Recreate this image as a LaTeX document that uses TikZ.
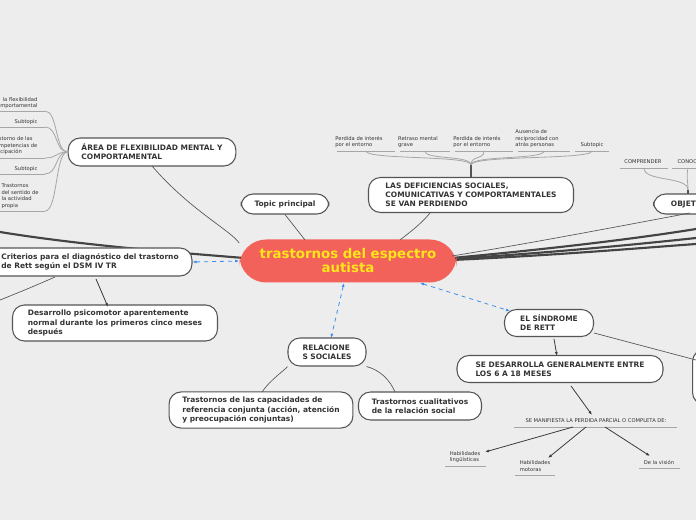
\documentclass[tikz,border=0pt]{standalone}
\usepackage{fontspec}
\setmainfont{DejaVu Sans}
\usetikzlibrary{arrows.meta}
\definecolor{bg}{HTML}{EDEDED}
\definecolor{edge}{HTML}{555555}
\definecolor{mainred}{HTML}{F2625A}
\definecolor{mainyel}{HTML}{FFE51A}
\definecolor{dblue}{HTML}{3A8EF0}
\tikzset{
  topic/.style={draw=edge, line width=0.8pt, fill=white, rounded corners=9pt, align=left, font=\fontsize{5.6}{6.8}\selectfont\bfseries, text=black!80, inner xsep=10pt, inner ysep=4pt},
  sub/.style={font=\fontsize{3.9}{4.9}\selectfont, text=black!80, align=left, inner sep=1pt},
  uline/.style={draw=gray!70, line width=0.7pt},
  conn/.style={draw=edge, line width=0.5pt},
  thick conn/.style={draw=edge!80!black, line width=1.6pt},
  darr/.style={draw=dblue, dashed, line width=0.6pt, {Latex[length=3pt]}-{Latex[length=3pt]}},
  sarr/.style={draw=edge!70!black, line width=0.6pt, -{Latex[length=3pt]}},
  branch/.style={draw=gray!70, line width=0.6pt}
}
\begin{document}
\begin{tikzpicture}[x=0.75pt,y=-0.75pt]
\fill[bg] (0,0) rectangle (696,520);
\useasboundingbox (0,0) rectangle (696,520);
\begin{scope}
\clip (0,0) rectangle (696,520);
\coordinate (L1) at (0,230); \coordinate (L2) at (0,300);
\coordinate (R1) at (696,229); \coordinate (R2) at (696,238); \coordinate (R3) at (696,244);
\coordinate (RR) at (696,360);
\draw[thick conn] (0,232) .. controls (80,245) and (170,252) .. (244,258);
\draw[thick conn] (452,258) .. controls (560,248) and (640,238) .. (R1);
\draw[thick conn] (452,259) .. controls (560,252) and (640,244) .. (R2);
\draw[thick conn] (452,260) .. controls (560,255) and (640,248) .. (R3);

\node[draw=none, fill=mainred, rounded corners=20pt, minimum width=217pt*0.75, minimum height=43pt*0.75, text=mainyel, font=\fontsize{10}{10.5}\selectfont\bfseries, align=center] (main) at (348,261) {trastornos del espectro\\autista};
\node[topic, minimum width=167*0.75pt, minimum height=28*0.75pt] (area) at (152,152) {ÁREA DE FLEXIBILIDAD MENTAL Y\\COMPORTAMENTAL};
\node[topic, minimum width=80*0.75pt, minimum height=20*0.75pt, align=center] (topic) at (285,204) {Topic principal};
\node[topic, minimum width=205*0.75pt, minimum height=35*0.75pt] (defi) at (471,195) {LAS DEFICIENCIAS SOCIALES,\\COMUNICATIVAS Y COMPORTAMENTALES\\SE VAN PERDIENDO};
\node[topic, minimum width=80*0.75pt, minimum height=20*0.75pt, anchor=west] (obj) at (653,204) {OBJETIVOS};
\node[topic, minimum width=192*0.75pt, minimum height=28*0.75pt] (crit) at (90,262) {Criterios para el diagnóstico del trastorno\\de Rett según el DSM IV TR};
\node[topic, minimum width=205*0.75pt, minimum height=36*0.75pt] (desa) at (115,323) {Desarrollo psicomotor aparentemente\\normal durante los primeros cinco meses\\después};
\node[topic, minimum width=78*0.75pt, minimum height=28*0.75pt, inner xsep=6pt] (rel) at (327,352) {RELACIONE\\S SOCIALES};
\node[topic, minimum width=177*0.75pt, minimum height=36*0.75pt] (cap) at (261,410) {Trastornos de las capacidades de\\referencia conjunta (acción, atención\\y preocupación conjuntas)};
\node[topic, minimum width=122*0.75pt, minimum height=28*0.75pt] (cual) at (420,406) {Trastornos cualitativos\\de la relación social};
\node[topic, minimum width=89*0.75pt, minimum height=27*0.75pt] (rett) at (549,323) {EL SÍNDROME\\DE RETT};
\node[topic, minimum width=206*0.75pt, minimum height=27*0.75pt] (sede) at (560,369) {SE DESARROLLA GENERALMENTE ENTRE\\LOS 6 A 18 MESES};
\node[topic, minimum width=40*0.75pt, minimum height=55*0.75pt, anchor=west] (rnode) at (692,377) {};

\node[sub] (mani) at (596,421) {SE MANIFIESTA LA PERDIDA PARCIAL O COMPLETA DE:};
\draw[uline] (514,427) -- (677,427);
\node[sub] (hl) at (465,457) {Habilidades\\lingüísticas};
\draw[uline] (445,466) -- (486,466);
\node[sub] (hm) at (535,466) {Habilidades\\motoras};
\draw[uline] (515,475) -- (555,475);
\node[sub] (vis) at (659,462) {De la visión};
\draw[uline] (639,468) -- (680,468);

\node[sub, anchor=east, align=right] (s1) at (39,103) {la flexibilidad\\comportamental};
\node[sub, anchor=east] (s2) at (39,122) {Subtopic};
\node[sub, anchor=east, align=left] (s3) at (39,146) {storno de las\\mpetencias de\\icipación};
\node[sub, anchor=east] (s4) at (39,169) {Subtopic};
\node[sub, anchor=west] (s5) at (0,196) {Trastornos\\del sentido de\\la actividad\\propia};
\foreach \y/\w in {111/45,127/45,158/45,174/45,211/45}{
  \draw[uline] (0,\y) -- (\w,\y);
  \draw[branch] (\w,\y) .. controls (58,\y) and (55,152) .. (area.west);
}

\coordinate (dj) at (471,165);
\draw[conn, line width=1.2pt] (defi.north) -- (dj);
\node[sub] at (359,142) {Perdida de interés\\por el entorno};
\node[sub] at (418,142) {Retraso mental\\grave};
\node[sub] at (477,142) {Perdida de interés\\por el entorno};
\node[sub] at (537,139) {Ausencia de\\reciprocidad con\\atrás personas};
\node[sub] at (592,145) {Subtopic};
\foreach \a/\b in {337/395,400/450,455/513,518/570,575/609}{
  \draw[uline] (\a,151) -- (\b,151);
  \draw[branch] ({(\a+\b)/2},151) .. controls ({(\a+\b)/2},160) and (471,155) .. (dj);
}
\coordinate (oj) at (688,190);
\node[sub] at (643,162) {COMPRENDER};
\draw[uline] (620,168) -- (668,168);
\node[sub, anchor=west] at (676,162) {CONOCER};
\draw[uline] (672,168) -- (696,168);
\draw[branch] (644,168) .. controls (644,182) and (688,176) .. (oj);
\draw[branch] (688,168) .. controls (686,178) and (688,180) .. (oj);
\draw[conn, line width=1.2pt] (oj) -- (688,194);

\draw[conn] (152,166) .. controls (190,210) and (230,230) .. (main.west|-0,243);
\draw[conn] (topic.south) -- (305,240);
\draw[conn] (430,213) .. controls (420,225) and (410,232) .. (400,240);
\draw[conn] (690,213) .. controls (600,230) and (520,245) .. (452,256);
\draw[conn] (55,277) .. controls (30,288) and (15,294) .. (L2);
\draw[conn] (rel.south west) .. controls (285,370) and (270,380) .. (262,392);
\draw[conn] (rel.south east) .. controls (380,370) and (390,380) .. (395,392);
\draw[conn] (rett.east) ++(0,10) -- (RR);
\draw[darr] (crit.east) -- (main.west);
\draw[darr] (344,283) -- (331,338);
\draw[darr] (420,283) -- (510,311);
\draw[sarr] (96,279) -- (108,307);
\draw[sarr] (554,339) -- (557,356);
\draw[sarr] (571,386) -- (592,415);
\draw[sarr] (573,427) -- (485,452);
\draw[sarr] (586,427) -- (548,458);
\draw[sarr] (605,427) -- (650,456);
\end{scope}
\end{tikzpicture}
\end{document}
